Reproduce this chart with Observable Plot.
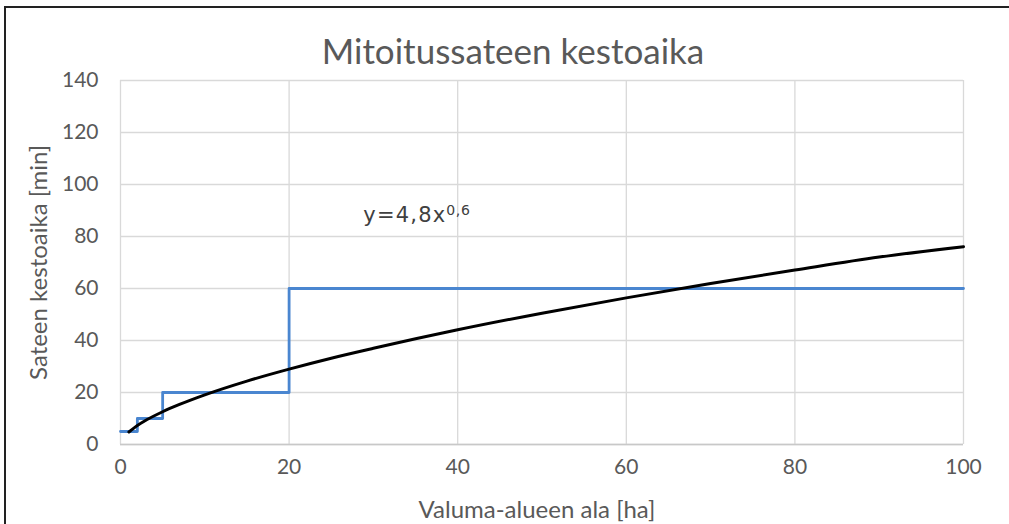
<!DOCTYPE html>
<html><head><meta charset="utf-8">
<script src="https://cdn.jsdelivr.net/npm/d3@7"></script>
<script src="https://cdn.jsdelivr.net/npm/@observablehq/plot@0.6"></script>
<style>
html,body{margin:0;padding:0;background:#fff;}
#wrap{position:relative;width:1009px;height:524px;overflow:hidden;}
#border{position:absolute;left:4px;top:6px;width:1020px;height:540px;border-top:2px solid #222;border-left:2px solid #222;pointer-events:none;}
svg{font-family:Lato,"Open Sans",sans-serif;}
</style></head>
<body><div id="wrap"><div id="border"></div></div>
<script>
// Step values (area limit -> duration)
const stepX = [0, 2, 5, 20, 100];
const stepY = [5, 10, 20, 60, 60];
// Curve y = 4,8 x^0,6
const curveX = [1, 2, 3, 5, 7, 10, 15, 20, 25, 30, 40, 50, 60, 70, 80, 90, 100];
const curveY = [4.8, 7.3, 9.3, 12.6, 15.4, 19.1, 24.4, 29.0, 33.2, 37.0, 44.1, 50.5, 56.4, 61.9, 67.1, 72.1, 76.1];
const xTicks = [0, 20, 40, 60, 80, 100];
const yTicks = [0, 20, 40, 60, 80, 100, 120, 140];
const title = "Mitoitussateen kestoaika";
const xLabel = "Valuma-alueen ala [ha]";
const yLabel = "Sateen kestoaika [min]";
const eqMain = "y=4,8x";
const eqExp = "0,6";

const steps = stepX.map((x, i) => ({x, y: stepY[i]}));
const curve = curveX.map((x, i) => ({x, y: curveY[i]}));
const gray = "#595959";

const chart = Plot.plot({
  width: 1009, height: 524,
  marginLeft: 120, marginRight: 46, marginTop: 80, marginBottom: 80,
  style: {fontFamily: 'Lato, "Open Sans", sans-serif', fontSize: "21px", color: gray, background: "transparent"},
  x: {domain: [0, 100], label: null},
  y: {domain: [0, 140], label: null},
  marks: [
    Plot.gridX(xTicks, {stroke: "#d9d9d9", strokeOpacity: 1, strokeWidth: 1.3}),
    Plot.gridY(yTicks, {stroke: "#d9d9d9", strokeOpacity: 1, strokeWidth: 1.3}),
    Plot.ruleY([0], {stroke: "#c8c8c8", strokeWidth: 1.5}),
    Plot.axisX({ticks: xTicks, tickSize: 0, tickPadding: 15, fill: gray, fontSize: 21, label: null}),
    Plot.axisY({ticks: yTicks, tickSize: 0, tickPadding: 22, fill: gray, fontSize: 21, label: null}),
    Plot.line(steps, {x: "x", y: "y", curve: "step-after", stroke: "#4a86d0", strokeWidth: 2.8}),
    Plot.line(curve, {x: "x", y: "y", curve: "monotone-x", stroke: "#000", strokeWidth: 3}),
    Plot.text([title], {frameAnchor: "top", lineAnchor: "middle", dy: -28, dx: -29, text: d => d, fontSize: 35, fill: gray}),
    Plot.text([xLabel], {frameAnchor: "bottom", lineAnchor: "middle", dy: 66, dx: -5, text: d => d, fontSize: 24, fill: gray}),
    Plot.text([yLabel], {frameAnchor: "left", textAnchor: "middle", lineAnchor: "middle", dx: -81, rotate: -90, text: d => d, fontSize: 24, fill: gray}),
    Plot.text([eqMain], {x: 28.8, y: 88, text: d => d, textAnchor: "start", lineAnchor: "middle", fontSize: 21, fill: "#404040", className: "eqn"})
  ]
});
document.getElementById("wrap").appendChild(chart);
// superscript exponent and spacing of the equation label
const eq = d3.select(chart).select("g.eqn text");
if (!eq.empty()) {
  eq.style("font-family", '"DejaVu Sans", sans-serif').style("font-size", "21px").style("letter-spacing", "1.2px");
  eq.append("tspan").attr("dy", "-0.55em").style("font-size", "14px").style("letter-spacing", "0.6px").text(eqExp);
}
</script></body></html>
